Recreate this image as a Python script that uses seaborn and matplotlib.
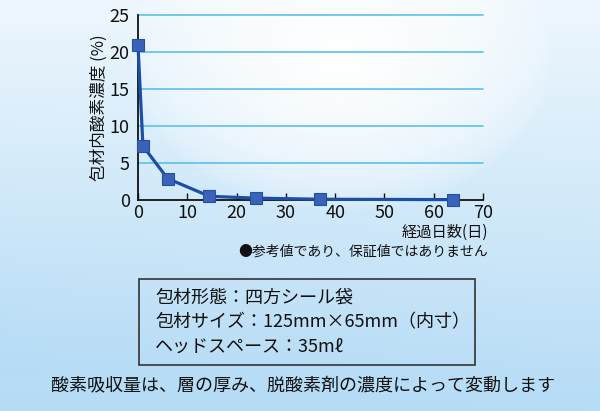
import numpy as np
import pandas as pd
import matplotlib
matplotlib.use("Agg")
import matplotlib.pyplot as plt
import seaborn as sns
from matplotlib.patches import Rectangle

# ---- data ----
days = [0, 1, 6, 14.5, 24, 37, 64]
oxygen = [20.9, 7.3, 2.9, 0.5, 0.25, 0.1, 0.05]
x_ticks = [0, 10, 20, 30, 40, 50, 60, 70]
y_ticks = [0, 5, 10, 15, 20, 25]
ylabel = "包材内酸素濃度 (%)"
xlabel = "経過日数(日)"
note = "●参考値であり、保証値ではありません"
box_lines = ["包材形態：四方シール袋", "包材サイズ：125mm×65mm（内寸）", "ヘッドスペース：35mℓ"]
footer = "酸素吸収量は、層の厚み、脱酸素剤の濃度によって変動します"

sns.set_theme(style="white")
plt.rcParams['font.family'] = ['Noto Sans CJK JP', 'DejaVu Sans']

W, H = 600, 411
fig = plt.figure(figsize=(6, 4.11), dpi=100)

# background gradient
bg_ax = fig.add_axes([0, 0, 1, 1], zorder=-10)
yy, xx = np.mgrid[0:H, 0:W]
light = np.array([238, 247, 253]) / 255
blue = np.array([182, 220, 246]) / 255
t = np.clip(yy / H * 1.0 + (W - xx) / W * 0.12 * (yy / H), 0, 1) ** 1.0
img = light * (1 - t[..., None]) + blue * t[..., None]
d = np.sqrt(((xx - 340) / 210) ** 2 + ((yy - 60) / 150) ** 2)
wblob = np.clip(1 - d, 0, 1) ** 0.6
img = img * (1 - wblob[..., None]) + np.array([1, 1, 1]) * wblob[..., None]
bg_ax.imshow(img, extent=[0, W, H, 0], aspect='auto')
bg_ax.set_xlim(0, W)
bg_ax.set_ylim(H, 0)
bg_ax.axis('off')

ax = fig.add_axes([138 / W, 1 - 200 / H, 345 / W, 185 / H])
ax.patch.set_alpha(0)
df = pd.DataFrame({"day": days, "o2": oxygen})
sns.lineplot(data=df, x="day", y="o2", ax=ax, color="#1c4ea8", lw=2.3,
             marker="s", markersize=9, markerfacecolor="#3a63b8",
             markeredgecolor="#23509f", markeredgewidth=0.8, clip_on=False, zorder=5)
ax.set_xlim(0, 70)
ax.set_ylim(0, 25)
ax.set_xticks(x_ticks)
ax.set_yticks(y_ticks)
for yv in y_ticks[1:]:
    ax.axhline(yv, color="#5cc0ec", lw=1.2, zorder=1, clip_on=False)
for s in ["top", "right"]:
    ax.spines[s].set_visible(False)
for s in ["left", "bottom"]:
    ax.spines[s].set_color("#111111")
    ax.spines[s].set_linewidth(1.3)
ax.tick_params(axis='x', direction='in', length=5, width=1, color="#111111",
               labelsize=13, pad=3, bottom=True)
ax.tick_params(axis='y', length=0, labelsize=13, pad=6)
for lbl in ax.get_xticklabels() + ax.get_yticklabels():
    lbl.set_color("#111111")
ax.set_xlabel("")
ax.set_ylabel(ylabel, fontsize=12, color="#111111", labelpad=1)
ax.grid(False)

fig.text(488 / W, 1 - 232 / H, xlabel, ha='right', va='center', fontsize=11, color="#111111")
fig.text(488 / W, 1 - 252 / H, note, ha='right', va='center', fontsize=10, color="#111111")

bg_ax.add_patch(Rectangle((139, 279), 336, 86, fill=False, edgecolor="#333333", lw=1.2))
for i, line in enumerate(box_lines):
    bg_ax.text(155, 298 + i * 24.5, line, ha='left', va='center', fontsize=13, color="#111111")
bg_ax.text(303, 385, footer, ha='center', va='center', fontsize=13, color="#111111")

fig.savefig("out.png", dpi=100)
